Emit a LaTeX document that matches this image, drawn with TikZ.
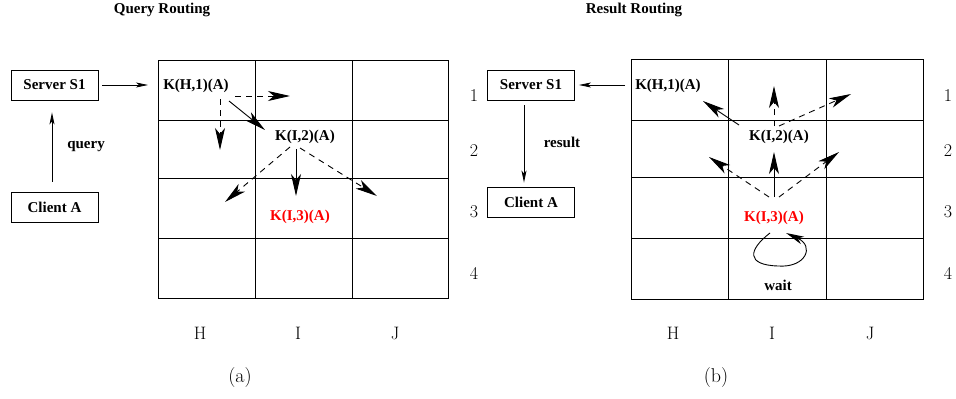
\documentclass[tikz,border=0pt]{standalone}
\usepackage{fontspec}
\newfontfamily\tnr{Liberation Serif}
\usetikzlibrary{arrows.meta}
\begin{document}
\begin{tikzpicture}[x=1pt,y=-1pt,
  bl/.style={font=\tnr\bfseries\fontsize{15}{17}\selectfont,inner sep=0pt},
  red label/.style={bl,text={rgb,255:red,255;green,0;blue,0}},
  boxnode/.style={draw,line width=0.9pt,minimum width=87pt,minimum height=30pt,inner sep=0pt,font=\tnr\bfseries\fontsize{15}{17}\selectfont},
  cmlab/.style={font=\fontsize{18}{20}\selectfont,inner sep=0pt},
  sublab/.style={font=\fontsize{20}{22}\selectfont,inner sep=0pt},
  gridline/.style={line width=1pt},
  bigarr/.style={line width=0.9pt,-{Stealth[length=22pt,width=10pt,inset=6pt]}},
  smallarr/.style={line width=0.8pt,-{Stealth[length=12pt,width=5pt,inset=3pt]}},
  dsh/.style={dash pattern=on 6pt off 5pt}]
\useasboundingbox (0,0) rectangle (956,399);
% ---------- (a) ----------
\node[bl] (ta) at (162,10) {Query Routing};
\draw[gridline] (158,60) rectangle (448,298);
\foreach \x in {255,352} \draw[gridline] (\x,60) -- (\x,298);
\foreach \y in {120,178,238} \draw[gridline] (158,\y) -- (448,\y);
\foreach \n/\y in {1/96,2/151,3/212,4/273} \node[cmlab] (ra\n) at (474,\y) {\n};
\foreach \c/\x in {H/200,I/298,J/395} \node[cmlab] (ca\c) at (\x,333) {\c};
\node[sublab] (suba) at (240,378) {(a)};
\node[boxnode] (sa) at (54.5,85) {Server S1};
\node[boxnode] (cla) at (54.5,207) {Client A};
\node[bl] (qa) at (86,147) {query};
\node[bl] (ha) at (196,86) {K(H,1)(A)};
\node[bl] (ia) at (305,137) {K(I,2)(A)};
\node[red label] (i3a) at (300,217) {K(I,3)(A)};
\coordinate (ga) at (148,85);
\draw[smallarr] ([yshift=10pt]cla.north -| 52,0) -- ([yshift=-12pt]sa.south -| 52,0);
\draw[smallarr] ([xshift=4pt]sa.east) -- (ga);
\coordinate (a1) at (235,96); \coordinate (a1e) at (290,96);
\coordinate (a2) at (220,99); \coordinate (a2e) at (220,150);
\coordinate (a3) at (229,101); \coordinate (a3e) at (265,130);
\draw[bigarr,dsh] (a1) -- (a1e);
\draw[bigarr,dsh] (a2) -- (a2e);
\draw[bigarr] (a3) -- (a3e);
\coordinate (b1) at (290,147); \coordinate (b1e) at (225,202);
\coordinate (b2) at (296,149); \coordinate (b2e) at (296,196);
\coordinate (b3) at (300,148); \coordinate (b3e) at (377,196);
\draw[bigarr,dsh] (b1) -- (b1e);
\draw[bigarr] (b2) -- (b2e);
\draw[bigarr,dsh] (b3) -- (b3e);
% ---------- (b) ----------
\node[bl] (tb) at (634,10) {Result Routing};
\draw[gridline] (631,59) rectangle (923,299);
\foreach \x in {728,826} \draw[gridline] (\x,59) -- (\x,299);
\foreach \y in {120,177,238} \draw[gridline] (631,\y) -- (923,\y);
\foreach \n/\y in {1/96,2/151,3/212,4/273} \node[cmlab] (rb\n) at (948,\y) {\n};
\foreach \c/\x in {H/673,I/772,J/870} \node[cmlab] (cb\c) at (\x,333) {\c};
\node[sublab] (subb) at (716,378) {(b)};
\node[boxnode] (sb) at (531,85) {Server S1};
\node[boxnode] (clb) at (531,202) {Client A};
\node[bl] (rb) at (562,142) {result};
\node[bl] (hb) at (668,86) {K(H,1)(A)};
\node[bl] (ib) at (779,137) {K(I,2)(A)};
\node[red label] (i3b) at (774,218) {K(I,3)(A)};
\node[bl] (wb) at (778,285) {wait};
\coordinate (gb) at (625,85);
\draw[smallarr] (gb) -- ([xshift=4pt]sb.east);
\draw[smallarr] ([yshift=-5pt]sb.south -| 524,0) -- ([yshift=4pt]clb.north -| 524,0);
\coordinate (c1) at (739,125); \coordinate (c1e) at (703,101);
\coordinate (c2) at (774,126); \coordinate (c2e) at (774,86);
\coordinate (c3) at (779,126); \coordinate (c3e) at (851,94);
\draw[bigarr] (c1) -- (c1e);
\draw[bigarr,dsh] (c2) -- (c2e);
\draw[bigarr,dsh] (c3) -- (c3e);
\coordinate (d1) at (769,197); \coordinate (d1e) at (709,157);
\coordinate (d2) at (774,197); \coordinate (d2e) at (774,152);
\coordinate (d3) at (779,197); \coordinate (d3e) at (839,152);
\draw[bigarr,dsh] (d1) -- (d1e);
\draw[bigarr] (d2) -- (d2e);
\draw[bigarr,dsh] (d3) -- (d3e);
\coordinate (w0) at (770,233); \coordinate (w1) at (778,266); \coordinate (w2) at (786,233);
\draw[line width=0.9pt,-{Stealth[length=18pt,width=8pt,inset=5pt]}] (w0) .. controls (748,250) and (746,265) .. (w1) .. controls (806,268) and (815,246) .. (w2);
\end{tikzpicture}
\end{document}
